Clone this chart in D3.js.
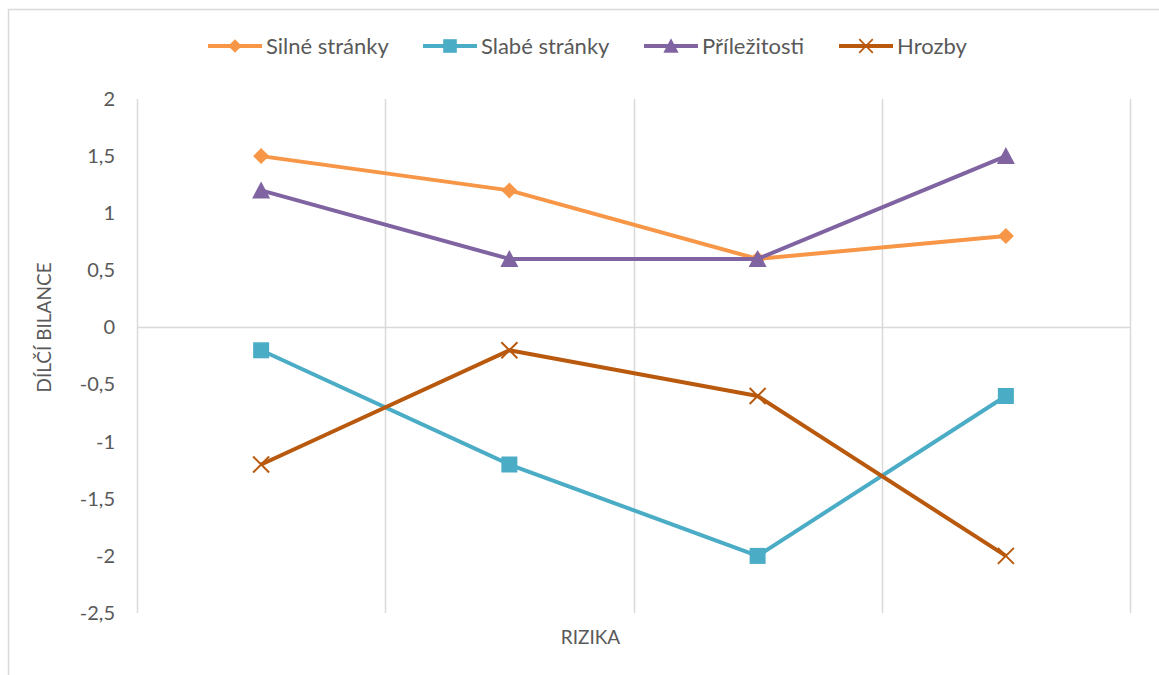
<!DOCTYPE html>
<html>
<head>
<meta charset="utf-8">
<script src="https://cdn.jsdelivr.net/npm/d3@7"></script>
<style>
  body { margin: 0; background: #fff; }
  svg text { font-family: Lato, "Open Sans", sans-serif; fill: #595959; }
</style>
</head>
<body>
<div id="chart"></div>
<script>
// data
const categories = ["1", "2", "3", "4"];
const seriesNames = ["Silné stránky", "Slabé stránky", "Příležitosti", "Hrozby"];
const silne = [1.5, 1.2, 0.6, 0.8];
const slabe = [-0.2, -1.2, -2, -0.6];
const prilezitosti = [1.2, 0.6, 0.6, 1.5];
const hrozby = [-1.2, -0.2, -0.6, -2];
const yTicks = [2, 1.5, 1, 0.5, 0, -0.5, -1, -1.5, -2, -2.5];

const colors = ["#F79646", "#4BACC6", "#8064A2", "#B9590E"];
const markers = ["diamond", "square", "triangle", "cross"];
const allSeries = [silne, slabe, prilezitosti, hrozby];

const W = 1159, H = 675;
const margin = {top: 99, right: 29, bottom: 62, left: 137};
const width = W - margin.left - margin.right,
      height = H - margin.top - margin.bottom;

const svg = d3.select("#chart").append("svg")
  .attr("width", W).attr("height", H);

// outer chart border
svg.append("rect")
  .attr("x", 8.5).attr("y", 9.5)
  .attr("width", 1170).attr("height", 690)
  .attr("fill", "none").attr("stroke", "#d9d9d9").attr("stroke-width", 1.5);

const g = svg.append("g").attr("transform", `translate(${margin.left},${margin.top})`);

const x = d3.scaleBand().domain(categories).range([0, width]).padding(0);
const y = d3.scaleLinear().domain([-2.5, 2]).range([height, 0]);

// vertical gridlines at category edges
const edges = categories.map(c => x(c)).concat([width]);
g.selectAll(".vgrid").data(edges).enter().append("line")
  .attr("x1", d => Math.round(d) + 0.5).attr("x2", d => Math.round(d) + 0.5)
  .attr("y1", 0).attr("y2", height)
  .attr("stroke", "#d9d9d9").attr("stroke-width", 1.5);

// zero line
g.append("line")
  .attr("x1", 0).attr("x2", width)
  .attr("y1", y(0)).attr("y2", y(0))
  .attr("stroke", "#d9d9d9").attr("stroke-width", 1.5);

// y axis labels
const yAxis = g.append("g")
  .call(d3.axisLeft(y).tickValues(yTicks).tickSize(0).tickPadding(22)
    .tickFormat(d => String(d).replace(".", ",")));
yAxis.select(".domain").remove();
yAxis.selectAll("text").style("font-size", "20px").attr("fill", "#595959")
  .style("font-family", "Lato, 'Open Sans', sans-serif");

// axis titles
svg.append("text")
  .attr("transform", `translate(51,${margin.top + y(0)}) rotate(-90)`)
  .attr("text-anchor", "middle")
  .style("font-size", "19px")
  .text("DÍLČÍ BILANCE");

svg.append("text")
  .attr("x", margin.left + width / 2 - 43).attr("y", 644)
  .attr("text-anchor", "middle")
  .style("font-size", "19px")
  .text("RIZIKA");

const line = d3.line()
  .x((d, i) => x(categories[i]) + x.bandwidth() / 2)
  .y(d => y(d));

function drawMarker(sel, type, color) {
  if (type === "diamond") {
    sel.append("path").attr("d", "M0,-8L8,0L0,8L-8,0Z").attr("fill", color);
  } else if (type === "square") {
    sel.append("rect").attr("x", -8).attr("y", -8).attr("width", 16).attr("height", 16).attr("fill", color);
  } else if (type === "triangle") {
    sel.append("path").attr("d", "M0,-9L9,8L-9,8Z").attr("fill", color);
  } else {
    sel.append("path").attr("d", "M-8,-8L8,8M8,-8L-8,8")
      .attr("stroke", color).attr("stroke-width", 2).attr("fill", "none");
  }
}

allSeries.forEach((vals, si) => {
  const sg = g.append("g");
  sg.append("path").datum(vals)
    .attr("d", line)
    .attr("fill", "none")
    .attr("stroke", colors[si])
    .attr("stroke-width", 4)
    .attr("stroke-linejoin", "round");
  vals.forEach((v, i) => {
    const m = sg.append("g")
      .attr("transform", `translate(${x(categories[i]) + x.bandwidth() / 2},${y(v)})`);
    drawMarker(m, markers[si], colors[si]);
  });
});

// legend
const legendX = [208, 423, 644, 839];
const legend = svg.append("g").attr("transform", "translate(0,46)");
seriesNames.forEach((name, i) => {
  const lg = legend.append("g").attr("transform", `translate(${legendX[i]},0)`);
  lg.append("line").attr("x1", 0).attr("x2", 54).attr("y1", 0).attr("y2", 0)
    .attr("stroke", colors[i]).attr("stroke-width", 4);
  const m = lg.append("g").attr("transform", "translate(27,0) scale(0.85)");
  drawMarker(m, markers[i], colors[i]);
  lg.append("text").attr("x", 58).attr("y", 7.5)
    .style("font-size", "22px")
    .text(name);
});
</script>
</body>
</html>
